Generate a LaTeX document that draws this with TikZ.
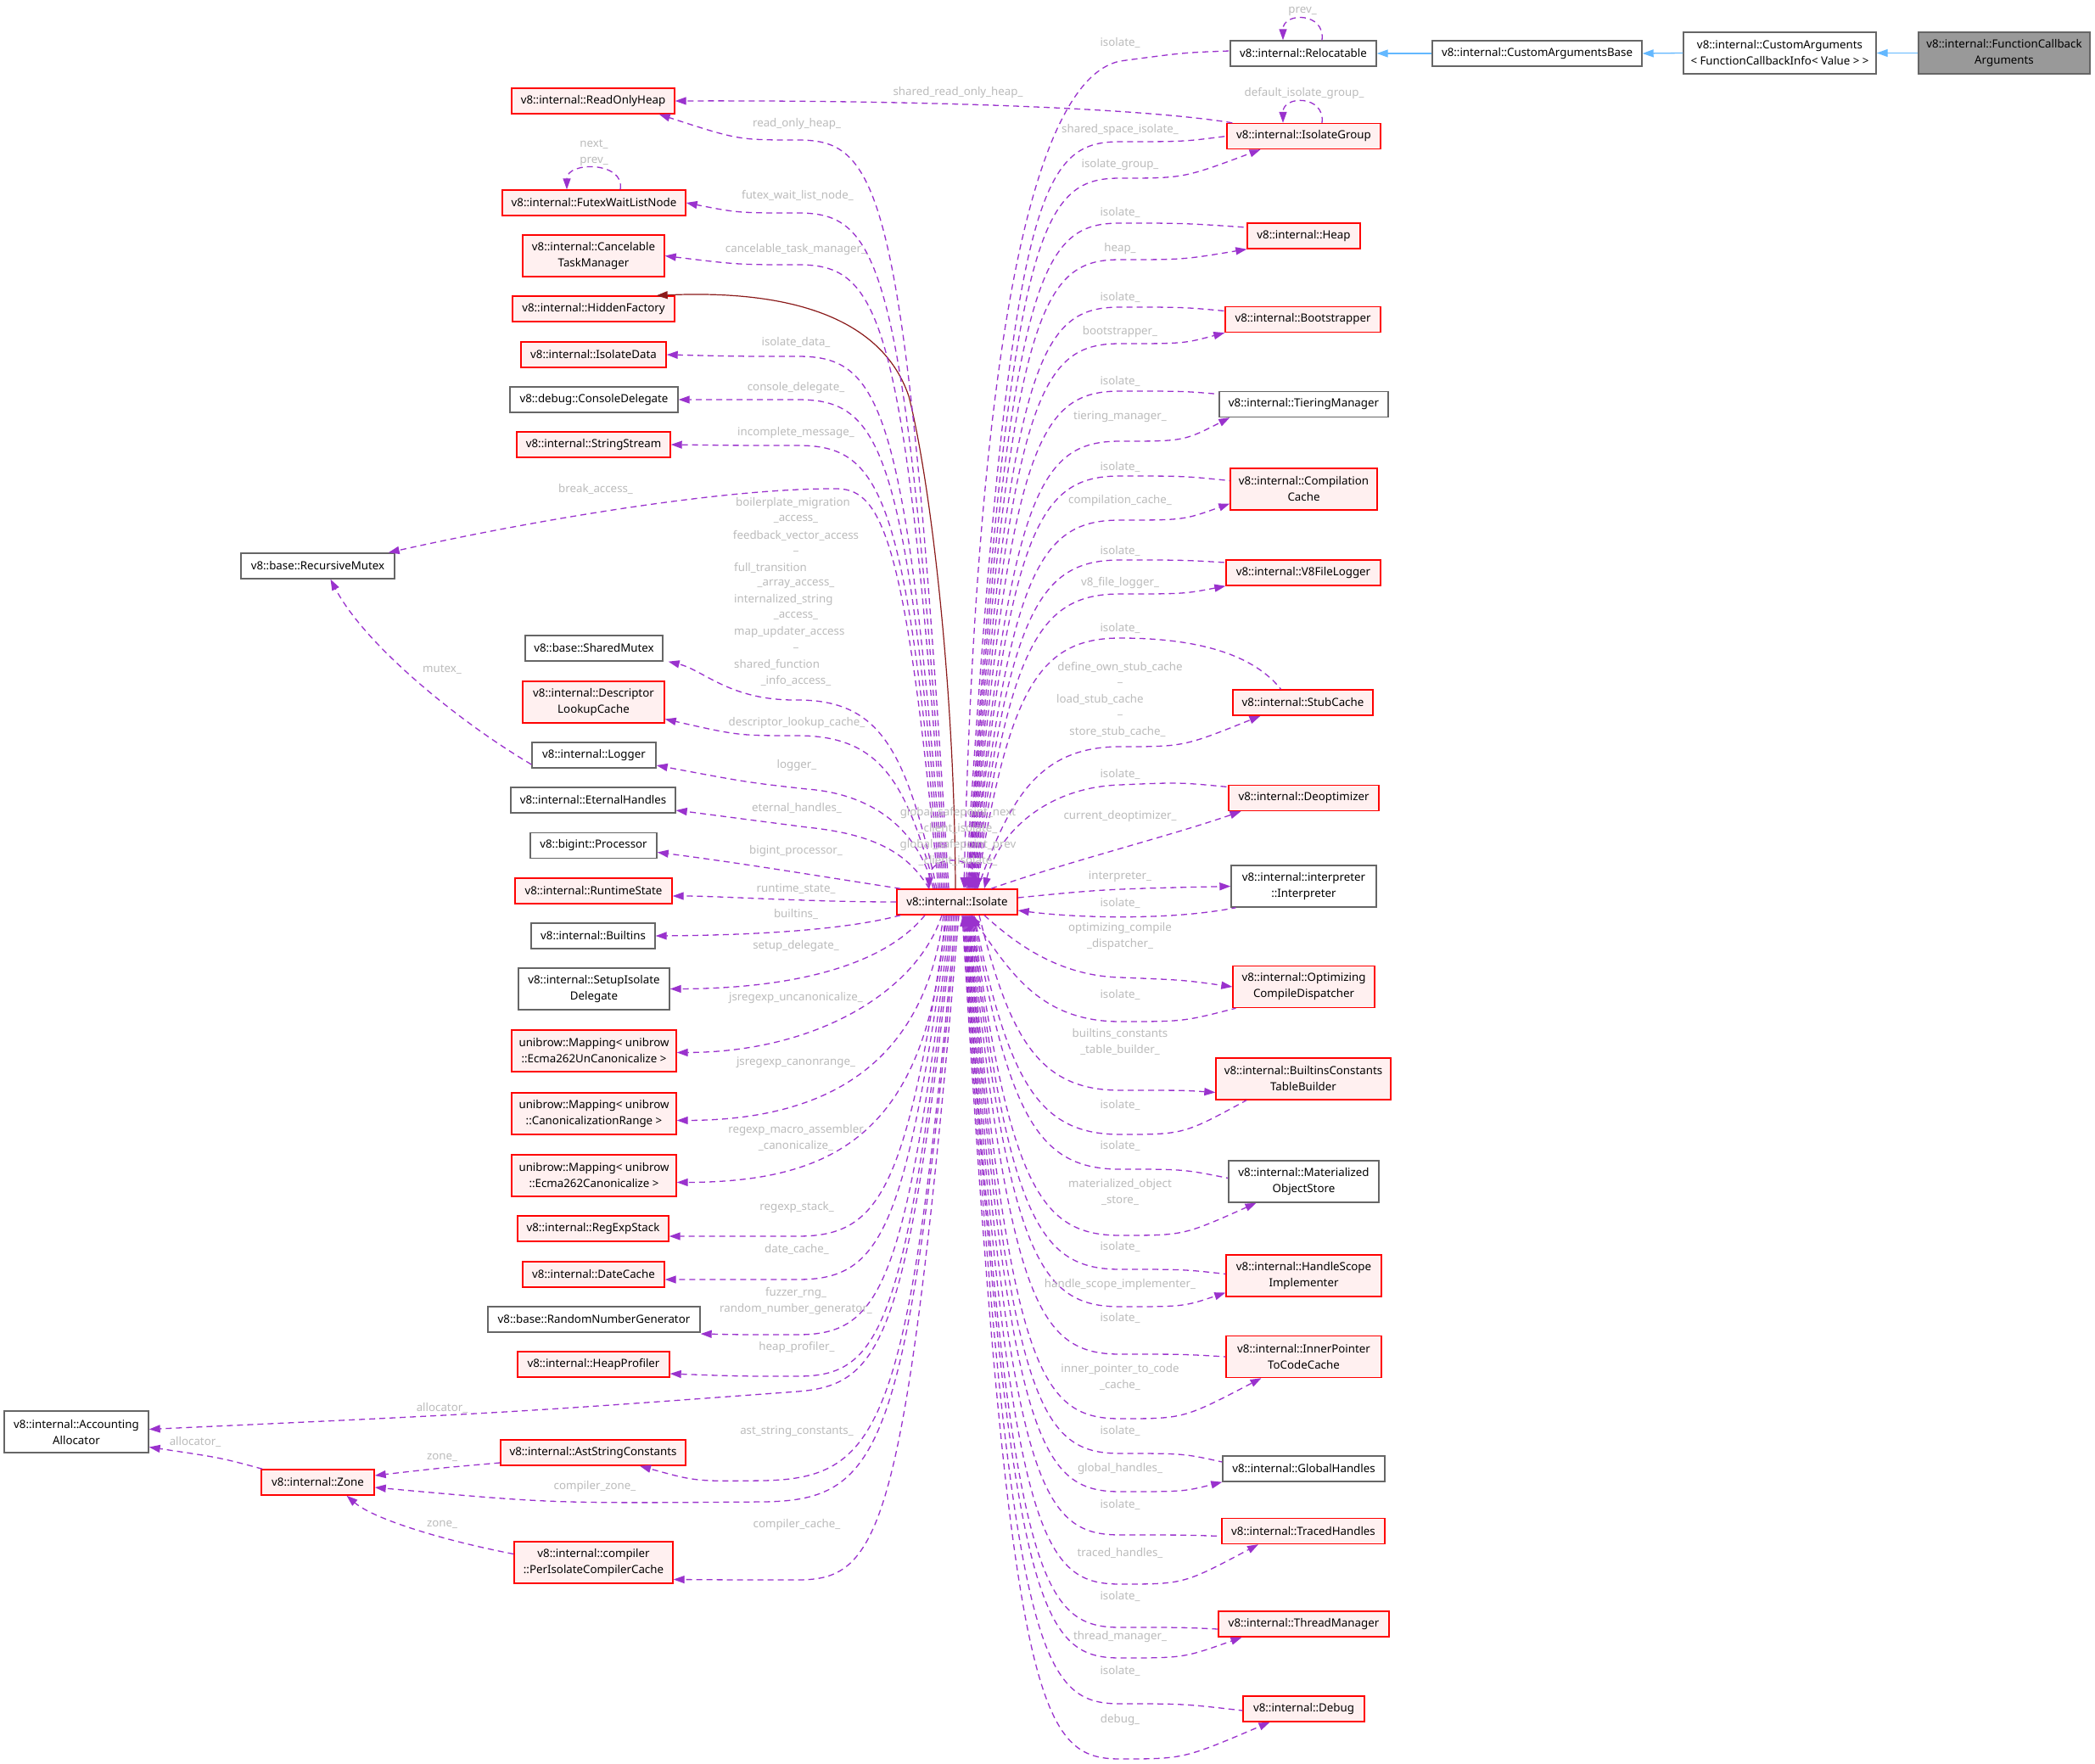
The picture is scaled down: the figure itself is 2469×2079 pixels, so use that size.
\documentclass[tikz,border=0pt]{standalone}
\usepackage{fontspec}
\setmainfont{Noto Sans}
\usetikzlibrary{arrows.meta}

\definecolor{edgeP}{HTML}{9A32CD}
\definecolor{edgeB}{HTML}{63B8FF}
\definecolor{edgeR}{HTML}{8B1A1A}
\definecolor{lbl}{HTML}{BBBBBB}
\definecolor{rfill}{HTML}{FFF0F0}
\definecolor{rdraw}{HTML}{FF0000}
\definecolor{gdraw}{HTML}{666666}
\definecolor{rootfill}{HTML}{999999}

\newcommand{\tfont}{\fontsize{13.3}{19}\selectfont}

% member edges fanning out of the Isolate box
% #1 arrow option, #2 x offset on the Isolate side, #3 y of the flat part, #4 far end
\newcommand{\edgeTR}[4]{\draw[dep,#1] ([xshift=#2]iso.north) .. controls (1190,#3+60) and (1225,#3) .. (1320,#3) .. controls (1395,#3) .. (#4);}
\newcommand{\edgeBR}[4]{\draw[dep,#1] ([xshift=#2]iso.south) .. controls (1190,#3-60) and (1225,#3) .. (1320,#3) .. controls (1395,#3) .. (#4);}
\newcommand{\edgeTL}[4]{\draw[dep,#1] ([xshift=#2]iso.north) .. controls (1068,#3+55) and (1038,#3) .. (940,#3) .. controls (870,#3) .. (#4);}
\newcommand{\edgeBL}[4]{\draw[dep,#1] ([xshift=#2]iso.south) .. controls (1068,#3-55) and (1038,#3) .. (940,#3) .. controls (870,#3) .. (#4);}

\begin{document}
\begin{tikzpicture}[x=1pt,y=-1pt,
  >={Triangle[length=13pt,width=9pt]},
  cls/.style={draw=gdraw, fill=white, line width=1.4pt, inner sep=0pt, align=center, font=\tfont},
  redcls/.style={cls, draw=rdraw, fill=rfill},
  sz/.style 2 args={minimum width=#1, minimum height=#2},
  lab/.style={text=lbl, font=\tfont, inner sep=0pt, align=center},
  dep/.style={draw=edgeP, line width=1.3pt, dash pattern=on 7pt off 5pt},
  inh/.style={draw=edgeB, line width=1.3pt, ->},
  priv/.style={draw=edgeR, line width=1.2pt, ->}]

\fill[white] (0,0) rectangle (2469,2079);
\useasboundingbox (0,0) rectangle (2469,2079);

% ---------- classes ----------
\node[cls, sz={202}{49}, fill=rootfill] (fcba) at (2362,62.5) {v8::internal::FunctionCallback\\Arguments};
\node[cls, sz={227}{49}] (ca) at (2097.5,62.5) {v8::internal::CustomArguments\\< FunctionCallbackInfo< Value > >};
\node[cls, sz={247}{30}] (cab) at (1811.5,63) {v8::internal::CustomArgumentsBase};
\node[cls, sz={172}{30}] (reloc) at (1536,63) {v8::internal::Relocatable};

\node[redcls, sz={142}{30}] (iso) at (1128,1063) {v8::internal::Isolate};

% right column
\node[redcls, sz={181}{30}] (igroup) at (1536.5,160.5) {v8::internal::IsolateGroup};
\node[redcls, sz={133}{30}] (heap) at (1536.5,278) {v8::internal::Heap};
\node[redcls, sz={183}{30}] (boot) at (1535.5,376.5) {v8::internal::Bootstrapper};
\node[cls, sz={199}{30}] (tier) at (1536.5,476.5) {v8::internal::TieringManager};
\node[redcls, sz={173}{49}] (ccache) at (1536.5,576.5) {v8::internal::Compilation\\Cache};
\node[redcls, sz={182}{30}] (v8fl) at (1536,675) {v8::internal::V8FileLogger};
\node[redcls, sz={165}{30}] (stub) at (1535.5,828) {v8::internal::StubCache};
\node[redcls, sz={177}{30}] (deopt) at (1536.5,940.5) {v8::internal::Deoptimizer};
\node[cls, sz={171}{49}] (interp) at (1536.5,1044.5) {v8::internal::interpreter\\::Interpreter};
\node[redcls, sz={167}{49}] (ocd) at (1536.5,1163) {v8::internal::Optimizing\\CompileDispatcher};
\node[redcls, sz={206}{49}] (bctb) at (1536,1271.5) {v8::internal::BuiltinsConstants\\TableBuilder};
\node[cls, sz={177}{49}] (mos) at (1536.5,1392.5) {v8::internal::Materialized\\ObjectStore};
\node[redcls, sz={183}{49}] (hsi) at (1536.5,1503.5) {v8::internal::HandleScope\\Implementer};
\node[redcls, sz={183}{49}] (iptcc) at (1536.5,1599) {v8::internal::InnerPointer\\ToCodeCache};
\node[cls, sz={191}{30}] (gh) at (1536.5,1731) {v8::internal::GlobalHandles};
\node[redcls, sz={192}{30}] (th) at (1536,1804.5) {v8::internal::TracedHandles};
\node[redcls, sz={201}{30}] (tm) at (1536.5,1914) {v8::internal::ThreadManager};
\node[redcls, sz={143}{30}] (debug) at (1536.5,2014) {v8::internal::Debug};

% left column
\node[redcls, sz={192}{30}] (roh) at (699,119) {v8::internal::ReadOnlyHeap};
\node[redcls, sz={216}{30}] (futex) at (700,239) {v8::internal::FutexWaitListNode};
\node[redcls, sz={167}{49}] (ctm) at (699.5,301.5) {v8::internal::Cancelable\\TaskManager};
\node[redcls, sz={191}{30}] (hf) at (699.5,364) {v8::internal::HiddenFactory};
\node[redcls, sz={171}{30}] (idata) at (699.5,418) {v8::internal::IsolateData};
\node[cls, sz={198}{30}] (cdel) at (700,471) {v8::debug::ConsoleDelegate};
\node[redcls, sz={181}{30}] (sstream) at (699.5,524) {v8::internal::StringStream};
\node[cls, sz={162}{30}] (smutex) at (700,764) {v8::base::SharedMutex};
\node[redcls, sz={167}{49}] (dlc) at (699.5,827.5) {v8::internal::Descriptor\\LookupCache};
\node[cls, sz={146}{30}] (logger) at (700,890) {v8::internal::Logger};
\node[cls, sz={194}{30}] (eh) at (699,943) {v8::internal::EternalHandles};
\node[cls, sz={149}{30}] (proc) at (699.5,996.5) {v8::bigint::Processor};
\node[redcls, sz={185}{30}] (rts) at (699.5,1050) {v8::internal::RuntimeState};
\node[cls, sz={146}{30}] (builtins) at (699,1103) {v8::internal::Builtins};
\node[cls, sz={178}{49}] (sid) at (700,1165.5) {v8::internal::SetupIsolate\\Delegate};
\node[redcls, sz={194}{49}] (mapU) at (700,1238.5) {unibrow::Mapping< unibrow\\::Ecma262UnCanonicalize >};
\node[redcls, sz={194}{49}] (mapR) at (700,1312.5) {unibrow::Mapping< unibrow\\::CanonicalizationRange >};
\node[redcls, sz={194}{49}] (mapC) at (700,1385.5) {unibrow::Mapping< unibrow\\::Ecma262Canonicalize >};
\node[redcls, sz={178}{30}] (res) at (699,1448) {v8::internal::RegExpStack};
\node[redcls, sz={167}{30}] (dc) at (699.5,1502) {v8::internal::DateCache};
\node[cls, sz={250}{30}] (rng) at (700,1555) {v8::base::RandomNumberGenerator};
\node[redcls, sz={179}{30}] (hp) at (699.5,1608) {v8::internal::HeapProfiler};
\node[redcls, sz={218}{30}] (asc) at (699,1712) {v8::internal::AstStringConstants};
\node[redcls, sz={187}{49}] (pic) at (699.5,1841.5) {v8::internal::compiler\\::PerIsolateCompilerCache};
\node[cls, sz={181}{30}] (rmutex) at (374.5,667) {v8::base::RecursiveMutex};
\node[redcls, sz={133}{30}] (zone) at (374.5,1747) {v8::internal::Zone};
\node[cls, sz={170}{49}] (aa) at (90,1687.5) {v8::internal::Accounting\\Allocator};

% ---------- inheritance ----------
\draw[inh] (fcba.west) -- (ca.east);
\draw[inh] (ca.west) -- (cab.east);
\draw[inh] (cab.west) -- (reloc.east);
\draw[priv] ([xshift=-2]iso.north) .. controls (1125,800) and (1095,560) .. (1071,467) .. controls (1045,390) and (960,340) .. ([xshift=-22pt]hf.north east);

% ---------- self loops ----------
\draw[dep,->] ([xshift=22]reloc.north) .. controls (1562,14) and (1512,14) .. ([xshift=-24]reloc.north);
\draw[dep,->] ([xshift=21.5]igroup.north) .. controls (1562,112) and (1512,112) .. ([xshift=-24.5]igroup.north);
\draw[dep,->] ([xshift=31]futex.north) .. controls (737,190) and (668,190) .. ([xshift=-32]futex.north);
\draw[dep,->] ([xshift=22]iso.north) .. controls (1160,1005) and (1095,1005) .. ([xshift=-33]iso.north);

% ---------- right side, above ----------
\draw[dep,<-] ([xshift=8]iso.north) .. controls (1150,450) and (1210,95) .. (1320,72) .. controls (1395,62) .. ([yshift=3pt]reloc.west);
\edgeTR{<-}{10}{167}{igroup.west}
\edgeTR{->}{12}{210}{[xshift=-51pt]igroup.south}
\edgeTR{<-}{13}{263}{[yshift=10pt]heap.west}
\edgeTR{->}{14}{306}{heap.south west}
\edgeTR{<-}{15}{362}{[yshift=10pt]boot.west}
\edgeTR{->}{16}{405}{boot.south west}
\edgeTR{<-}{17}{461}{[yshift=12pt]tier.west}
\edgeTR{->}{18}{520}{[xshift=13pt]tier.south west}
\edgeTR{<-}{19}{561}{[yshift=10pt]ccache.west}
\edgeTR{->}{20}{613}{[yshift=-17pt]ccache.west}
\edgeTR{<-}{21}{660}{[yshift=12pt]v8fl.west}
\edgeTR{->}{22}{700}{v8fl.south west}
\draw[dep,<-] ([xshift=23]iso.north) .. controls (1190,812) and (1225,752) .. (1320,752) .. controls (1420,752) and (1480,775) .. ([xshift=-26pt]stub.north);
\edgeTR{->}{24}{880}{[xshift=-50pt]stub.south}
\draw[dep,<-] ([xshift=32]iso.north) .. controls (1175,985) and (1230,928) .. (1320,925) .. controls (1390,922) .. ([yshift=13pt]deopt.west);
\draw[dep,->] ([xshift=40]iso.north) .. controls (1260,1015) and (1380,985) .. ([xshift=-74pt]deopt.south);
\draw[dep,->] ([yshift=5pt]iso.east) .. controls (1300,1048) .. (interp.west);
\draw[dep,<-] ([yshift=-10pt]iso.east) .. controls (1270,1082) and (1380,1085) .. ([xshift=-80pt]interp.south);

% ---------- right side, below ----------
\draw[dep,->] ([xshift=32]iso.south) .. controls (1200,1115) and (1250,1150) .. (1320,1152) .. controls (1395,1155) .. (ocd.west);
\edgeBR{<-}{16}{1204}{[xshift=-80pt]ocd.south}
\edgeBR{->}{26}{1285}{[yshift=-16pt]bctb.west}
\edgeBR{<-}{20}{1337}{[xshift=-67pt]bctb.south}
\edgeBR{<-}{19}{1378}{[yshift=4pt]mos.west}
\edgeBR{->}{18}{1456}{[xshift=-56pt]mos.south}
\edgeBR{<-}{17}{1496}{[yshift=2pt]hsi.west}
\edgeBR{->}{16}{1540}{[yshift=-20pt]hsi.west}
\edgeBR{<-}{15}{1596}{iptcc.west}
\edgeBR{->}{14}{1672}{[xshift=-50pt]iptcc.south}
\edgeBR{<-}{13}{1713}{[yshift=8pt]gh.west}
\edgeBR{->}{12}{1758}{gh.south west}
\edgeBR{<-}{11}{1809}{[yshift=-6pt]th.west}
\edgeBR{->}{10}{1867}{[xshift=-53pt]th.south}
\edgeBR{<-}{9}{1918}{[yshift=-6pt]tm.west}
\edgeBR{->}{8}{1954}{[xshift=-73pt]tm.south}
\edgeBR{<-}{7}{2008}{[yshift=-2pt]debug.west}
\edgeBR{->}{6}{2073}{[xshift=-40pt]debug.south}

% ---------- left side, above ----------
\draw[dep,->] ([xshift=7]igroup.north west) .. controls (1350,128) and (1100,118) .. (roh.east);
\edgeTL{->}{-10}{165}{[xshift=-19pt]roh.south east}
\edgeTL{->}{-12}{251}{futex.east}
\edgeTL{->}{-14}{312}{ctm.east}
\edgeTL{->}{-16}{420}{idata.east}
\edgeTL{->}{-18}{471}{cdel.east}
\edgeTL{->}{-20}{525}{sstream.east}
\draw[dep,->] ([xshift=-22]iso.north) .. controls (1068,640) and (1040,577) .. (987,576) .. controls (850,575) and (620,615) .. ([xshift=-8pt]rmutex.north east);
\draw[dep,->] ([xshift=-24]iso.north) .. controls (1068,885) and (1038,825) .. (940,825) .. controls (860,826) and (830,790) .. ([xshift=6pt]smutex.south east);
\edgeTL{->}{-26}{867}{[yshift=-20pt]dlc.east}
\draw[dep,->] ([xshift=-28]iso.north) .. controls (1080,970) and (1020,935) .. (951,930) .. controls (880,922) .. ([yshift=-12pt]logger.east);
\draw[dep,->] ([xshift=-33]iso.north) .. controls (1070,1005) and (1030,983) .. (951,975) .. controls (880,965) .. ([yshift=-12pt]eh.east);
\draw[dep,->] ([xshift=5pt]iso.north west) .. controls (980,1035) and (880,1018) .. ([yshift=-8pt]proc.east);
\draw[dep,->] (iso.west) .. controls (950,1063) and (850,1056) .. ([yshift=-6pt]rts.east);
\draw[dep,->] ([yshift=-11pt]logger.west) .. controls (540,850) and (430,760) .. ([xshift=15pt]rmutex.south);

% ---------- left side, below ----------
\draw[dep,->] ([xshift=5pt]iso.south west) .. controls (1000,1095) and (900,1102) .. (builtins.east);
\draw[dep,->] ([xshift=-38]iso.south) .. controls (1040,1140) and (930,1165) .. (sid.east);
\draw[dep,->] ([xshift=-18]iso.south) .. controls (1080,1170) and (960,1240) .. ([yshift=-2pt]mapU.east);
\draw[dep,->] ([xshift=-16]iso.south) .. controls (1090,1250) and (980,1320) .. ([yshift=-8pt]mapR.east);
\draw[dep,->] ([xshift=-14]iso.south) .. controls (1095,1330) and (990,1393) .. ([yshift=-8pt]mapC.east);
\edgeBL{->}{-12}{1457}{[yshift=-9pt]res.east}
\edgeBL{->}{-10}{1508}{[yshift=-6pt]dc.east}
\edgeBL{->}{-8}{1573}{[yshift=-17pt]rng.east}
\edgeBL{->}{-6}{1622}{[yshift=-11pt]hp.east}
\draw[dep,->] ([xshift=-4]iso.south) .. controls (1070,1580) and (1040,1632) .. (940,1640) .. controls (600,1665) .. ([yshift=3pt]aa.east);
\draw[dep,->] ([xshift=-2]iso.south) .. controls (1072,1680) and (1040,1742) .. (900,1745) .. controls (820,1746) .. ([xshift=55pt]asc.south);
\draw[dep,->] (iso.south) .. controls (1070,1710) and (1040,1768) .. (900,1770) .. controls (650,1772) .. ([yshift=-6pt]zone.east);
\edgeBL{->}{2}{1862}{[yshift=-20pt]pic.east}
\draw[dep,->] ([xshift=2pt]zone.north west) .. controls (260,1718) .. ([yshift=-18pt]aa.east);
\draw[dep,->] ([yshift=-12pt]asc.west) .. controls (520,1730) .. ([yshift=8pt]zone.east);
\draw[dep,->] ([yshift=10pt]pic.west) .. controls (520,1815) and (440,1790) .. ([xshift=34pt]zone.south);

% ---------- edge labels ----------
\node[lab] (lbRelPrev) at (1535,13) {prev\_};
\node[lab] (lbRelIso) at (1320,50) {isolate\_};
\node[lab] (lbSROH) at (1129,109) {shared\_read\_only\_heap\_};
\node[lab] (lbDIG) at (1537,110) {default\_isolate\_group\_};
\node[lab] (lbSSI) at (1320,153) {shared\_space\_isolate\_};
\node[lab] (lbIG) at (1320,194) {isolate\_group\_};
\node[lab] (lbHeapIso) at (1320,250) {isolate\_};
\node[lab] (lbHeap) at (1320,293) {heap\_};
\node[lab] (lbBootIso) at (1320,350) {isolate\_};
\node[lab] (lbBoot) at (1320,391) {bootstrapper\_};
\node[lab] (lbTierIso) at (1320,449) {isolate\_};
\node[lab] (lbTier) at (1320,491) {tiering\_manager\_};
\node[lab] (lbCCIso) at (1320,550) {isolate\_};
\node[lab] (lbCC) at (1320,590) {compilation\_cache\_};
\node[lab] (lbV8Iso) at (1320,649) {isolate\_};
\node[lab] (lbV8) at (1320,687) {v8\_file\_logger\_};
\node[lab] (lbStubIso) at (1320,740) {isolate\_};
\node[lab] (lbStub1) at (1320,786) {define\_own\_stub\_cache};
\node[lab] (lbStub2) at (1320,805) {\_};
\node[lab,anchor=west] (lbStub3) at (1245,824) {load\_stub\_cache};
\node[lab] (lbStub4) at (1320,843) {\_};
\node[lab] (lbStub5) at (1317,862) {store\_stub\_cache\_};
\node[lab] (lbDeoptIso) at (1320,912) {isolate\_};
\node[lab] (lbDeopt) at (1320,962) {current\_deoptimizer\_};
\node[lab] (lbInterp) at (1320,1033) {interpreter\_};
\node[lab] (lbInterpIso) at (1320,1064) {isolate\_};
\node[lab] (lbOCD) at (1320,1103.5) {optimizing\_compile\\\_dispatcher\_};
\node[lab] (lbOCDIso) at (1320,1172) {isolate\_};
\node[lab] (lbBCTB) at (1320,1227.5) {builtins\_constants\\\_table\_builder\_};
\node[lab] (lbBCTBIso) at (1320,1302) {isolate\_};
\node[lab] (lbMOSIso) at (1320,1350) {isolate\_};
\node[lab] (lbMOS) at (1320,1405) {materialized\_object\\\_store\_};
\node[lab] (lbHSIIso) at (1320,1469) {isolate\_};
\node[lab] (lbHSI) at (1320,1514) {handle\_scope\_implementer\_};
\node[lab] (lbIPIso) at (1320,1553) {isolate\_};
\node[lab] (lbIP) at (1320,1622.5) {inner\_pointer\_to\_code\\\_cache\_};
\node[lab] (lbGHIso) at (1320,1686) {isolate\_};
\node[lab] (lbGH) at (1320,1731) {global\_handles\_};
\node[lab] (lbTHIso) at (1320,1773) {isolate\_};
\node[lab] (lbTH) at (1320,1830) {traced\_handles\_};
\node[lab] (lbTMIso) at (1320,1881) {isolate\_};
\node[lab] (lbTM) at (1320,1929) {thread\_manager\_};
\node[lab] (lbDbgIso) at (1320,1969) {isolate\_};
\node[lab] (lbDbg) at (1320,2027) {debug\_};

\node[lab] (lbGSP) at (1129,985.5) {global\_safepoint\_next\\\_client\_isolate\_\\global\_safepoint\_prev\\\_client\_isolate\_};

\node[lab] (lbROH) at (939,146) {read\_only\_heap\_};
\node[lab] (lbFutexLoop) at (700,180.5) {next\_\\prev\_};
\node[lab] (lbFutex) at (940,230) {futex\_wait\_list\_node\_};
\node[lab] (lbCTM) at (938,294) {cancelable\_task\_manager\_};
\node[lab] (lbIData) at (938,403) {isolate\_data\_};
\node[lab] (lbCDel) at (938,457) {console\_delegate\_};
\node[lab] (lbSS) at (938,510) {incomplete\_message\_};
\node[lab] (lbBreak) at (702,576) {break\_access\_};
\node[lab,anchor=west] (lbSM1) at (867,593) {boilerplate\_migration};
\node[lab] (lbSM2) at (938,612) {\_access\_};
\node[lab] (lbSM3) at (938,631) {feedback\_vector\_access};
\node[lab] (lbSM4) at (938,650) {\_};
\node[lab,anchor=west] (lbSM5) at (865,669) {full\_transition};
\node[lab] (lbSM6) at (938,688) {\_array\_access\_};
\node[lab,anchor=west] (lbSM7) at (865,707) {internalized\_string};
\node[lab] (lbSM8) at (938,726) {\_access\_};
\node[lab,anchor=west] (lbSM9) at (865,745) {map\_updater\_access};
\node[lab] (lbSM10) at (938,764) {\_};
\node[lab,anchor=west] (lbSM11) at (865,783) {shared\_function};
\node[lab] (lbSM12) at (938,802) {\_info\_access\_};
\node[lab] (lbMutex) at (521,789) {mutex\_};
\node[lab] (lbDLC) at (939,852) {descriptor\_lookup\_cache\_};
\node[lab] (lbLogger) at (939,902) {logger\_};
\node[lab] (lbEH) at (939,952) {eternal\_handles\_};
\node[lab] (lbProc) at (938,1003) {bigint\_processor\_};
\node[lab] (lbRTS) at (938,1048) {runtime\_state\_};
\node[lab] (lbBuiltins) at (938,1077) {builtins\_};
\node[lab] (lbSID) at (938,1115) {setup\_delegate\_};
\node[lab] (lbMapU) at (938,1176) {jsregexp\_uncanonicalize\_};
\node[lab] (lbMapR) at (938,1252) {jsregexp\_canonrange\_};
\node[lab] (lbMapC) at (938,1341) {regexp\_macro\_assembler\\\_canonicalize\_};
\node[lab] (lbRES) at (939,1423) {regexp\_stack\_};
\node[lab] (lbDC) at (939,1472) {date\_cache\_};
\node[lab] (lbRNG) at (938,1533.5) {fuzzer\_rng\_\\random\_number\_generator\_};
\node[lab] (lbHP) at (939,1588) {heap\_profiler\_};
\node[lab] (lbAA1) at (521,1659) {allocator\_};
\node[lab] (lbASC) at (939,1687) {ast\_string\_constants\_};
\node[lab] (lbAA2) at (230,1699) {allocator\_};
\node[lab] (lbZone1) at (521,1718) {zone\_};
\node[lab] (lbCZ) at (701,1752) {compiler\_zone\_};
\node[lab] (lbCC2) at (939,1797) {compiler\_cache\_};
\node[lab] (lbZone2) at (521,1797) {zone\_};

\end{tikzpicture}
\end{document}
